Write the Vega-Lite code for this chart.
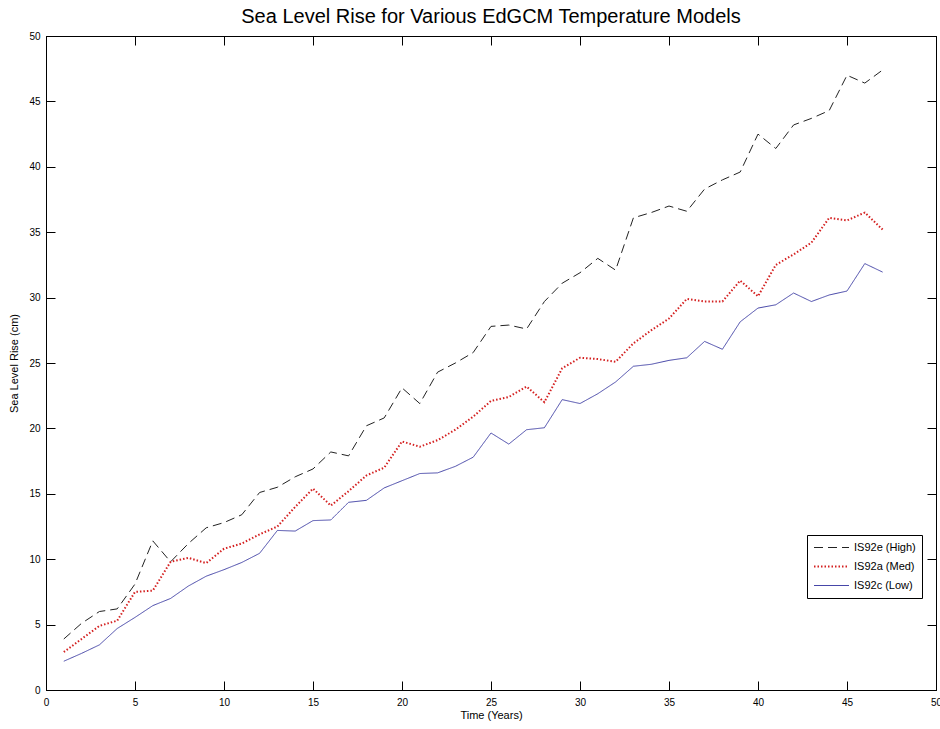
{
  "$schema": "https://vega.github.io/schema/vega-lite/v6.json",
  "width": 890,
  "height": 654,
  "autosize": "none",
  "padding": {"left": 46, "top": 36, "right": 4, "bottom": 39},
  "background": "white",
  "title": {"text": "Sea Level Rise for Various EdGCM Temperature Models", "font": "Liberation Sans", "fontSize": 20, "fontWeight": "normal", "color": "black", "offset": 4},
  "config": {
    "view": {"stroke": "black", "strokeWidth": 1},
    "font": "Liberation Sans",
    "axis": {"grid": false, "domainColor": "black", "tickColor": "black", "labelColor": "black", "titleColor": "black", "labelFont": "Liberation Sans", "titleFont": "Liberation Sans", "labelFontSize": 10, "titleFontSize": 11, "titleFontWeight": "normal", "tickSize": -9, "labelPadding": 15, "labelFlush": false, "labelOverlap": false}
  },
  "data": {"values": [
    {"t":1,"IS92e (High)":3.9,"IS92a (Med)":2.9,"IS92c (Low)":2.2},
    {"t":2,"IS92e (High)":5.1,"IS92a (Med)":3.9,"IS92c (Low)":2.8},
    {"t":3,"IS92e (High)":6.0,"IS92a (Med)":4.9,"IS92c (Low)":3.45},
    {"t":4,"IS92e (High)":6.2,"IS92a (Med)":5.3,"IS92c (Low)":4.7},
    {"t":5,"IS92e (High)":8.1,"IS92a (Med)":7.5,"IS92c (Low)":5.55},
    {"t":6,"IS92e (High)":11.4,"IS92a (Med)":7.6,"IS92c (Low)":6.45},
    {"t":7,"IS92e (High)":9.8,"IS92a (Med)":9.8,"IS92c (Low)":7.0},
    {"t":8,"IS92e (High)":11.2,"IS92a (Med)":10.1,"IS92c (Low)":7.95},
    {"t":9,"IS92e (High)":12.4,"IS92a (Med)":9.7,"IS92c (Low)":8.7},
    {"t":10,"IS92e (High)":12.8,"IS92a (Med)":10.8,"IS92c (Low)":9.2},
    {"t":11,"IS92e (High)":13.4,"IS92a (Med)":11.2,"IS92c (Low)":9.75},
    {"t":12,"IS92e (High)":15.1,"IS92a (Med)":11.9,"IS92c (Low)":10.45},
    {"t":13,"IS92e (High)":15.5,"IS92a (Med)":12.5,"IS92c (Low)":12.2},
    {"t":14,"IS92e (High)":16.3,"IS92a (Med)":14.0,"IS92c (Low)":12.15},
    {"t":15,"IS92e (High)":16.9,"IS92a (Med)":15.4,"IS92c (Low)":12.95},
    {"t":16,"IS92e (High)":18.2,"IS92a (Med)":14.1,"IS92c (Low)":13.0},
    {"t":17,"IS92e (High)":17.9,"IS92a (Med)":15.2,"IS92c (Low)":14.35},
    {"t":18,"IS92e (High)":20.2,"IS92a (Med)":16.4,"IS92c (Low)":14.5},
    {"t":19,"IS92e (High)":20.8,"IS92a (Med)":17.0,"IS92c (Low)":15.45},
    {"t":20,"IS92e (High)":23.1,"IS92a (Med)":19.0,"IS92c (Low)":16.0},
    {"t":21,"IS92e (High)":21.9,"IS92a (Med)":18.6,"IS92c (Low)":16.55},
    {"t":22,"IS92e (High)":24.3,"IS92a (Med)":19.1,"IS92c (Low)":16.6},
    {"t":23,"IS92e (High)":25.0,"IS92a (Med)":19.9,"IS92c (Low)":17.1},
    {"t":24,"IS92e (High)":25.8,"IS92a (Med)":20.9,"IS92c (Low)":17.8},
    {"t":25,"IS92e (High)":27.8,"IS92a (Med)":22.1,"IS92c (Low)":19.65},
    {"t":26,"IS92e (High)":27.9,"IS92a (Med)":22.4,"IS92c (Low)":18.8},
    {"t":27,"IS92e (High)":27.6,"IS92a (Med)":23.2,"IS92c (Low)":19.9},
    {"t":28,"IS92e (High)":29.7,"IS92a (Med)":22.0,"IS92c (Low)":20.05},
    {"t":29,"IS92e (High)":31.1,"IS92a (Med)":24.6,"IS92c (Low)":22.2},
    {"t":30,"IS92e (High)":31.9,"IS92a (Med)":25.4,"IS92c (Low)":21.9},
    {"t":31,"IS92e (High)":33.0,"IS92a (Med)":25.3,"IS92c (Low)":22.65},
    {"t":32,"IS92e (High)":32.1,"IS92a (Med)":25.1,"IS92c (Low)":23.55},
    {"t":33,"IS92e (High)":36.1,"IS92a (Med)":26.5,"IS92c (Low)":24.75},
    {"t":34,"IS92e (High)":36.5,"IS92a (Med)":27.5,"IS92c (Low)":24.9},
    {"t":35,"IS92e (High)":37.0,"IS92a (Med)":28.4,"IS92c (Low)":25.2},
    {"t":36,"IS92e (High)":36.6,"IS92a (Med)":29.9,"IS92c (Low)":25.4},
    {"t":37,"IS92e (High)":38.3,"IS92a (Med)":29.7,"IS92c (Low)":26.65},
    {"t":38,"IS92e (High)":39.0,"IS92a (Med)":29.7,"IS92c (Low)":26.05},
    {"t":39,"IS92e (High)":39.6,"IS92a (Med)":31.3,"IS92c (Low)":28.15},
    {"t":40,"IS92e (High)":42.5,"IS92a (Med)":30.1,"IS92c (Low)":29.2},
    {"t":41,"IS92e (High)":41.4,"IS92a (Med)":32.5,"IS92c (Low)":29.45},
    {"t":42,"IS92e (High)":43.2,"IS92a (Med)":33.3,"IS92c (Low)":30.35},
    {"t":43,"IS92e (High)":43.7,"IS92a (Med)":34.2,"IS92c (Low)":29.7},
    {"t":44,"IS92e (High)":44.3,"IS92a (Med)":36.1,"IS92c (Low)":30.2},
    {"t":45,"IS92e (High)":47.0,"IS92a (Med)":35.9,"IS92c (Low)":30.5},
    {"t":46,"IS92e (High)":46.4,"IS92a (Med)":36.5,"IS92c (Low)":32.6},
    {"t":47,"IS92e (High)":47.4,"IS92a (Med)":35.2,"IS92c (Low)":31.95}
  ]},
  "transform": [{"fold": ["IS92e (High)", "IS92a (Med)", "IS92c (Low)"], "as": ["series", "v"]}],
  "layer": [
    {
      "mark": {"type": "line"},
      "encoding": {
        "x": {"field": "t", "type": "quantitative", "scale": {"domain": [0, 50], "nice": false}, "axis": {"values": [0,5,10,15,20,25,30,35,40,45,50], "title": "Time (Years)", "titlePadding": 2, "labelPadding": 16}},
        "y": {"field": "v", "type": "quantitative", "scale": {"domain": [0, 50], "nice": false}, "axis": {"values": [0,5,10,15,20,25,30,35,40,45,50], "title": "Sea Level Rise (cm)", "titlePadding": 9}},
        "color": {"field": "series", "type": "nominal", "scale": {"domain": ["IS92e (High)", "IS92a (Med)", "IS92c (Low)"], "range": ["#222222", "#d42020", "#4646a8"]}, "legend": {"title": null, "orient": "none", "legendX": 761, "legendY": 499, "symbolType": "stroke", "symbolSize": 1225, "clipHeight": 13, "labelFontSize": 11, "labelColor": "black", "labelFont": "Liberation Sans", "strokeColor": "black", "fillColor": "white", "padding": 6, "rowPadding": 6, "labelOffset": 4}},
        "strokeDash": {"field": "series", "type": "nominal", "scale": {"domain": ["IS92e (High)", "IS92a (Med)", "IS92c (Low)"], "range": [[9, 5], [1.5, 2], [1, 0]]}},
        "strokeWidth": {"field": "series", "type": "nominal", "scale": {"type": "ordinal", "domain": ["IS92e (High)", "IS92a (Med)", "IS92c (Low)"], "range": [1, 2, 1]}}
      }
    },
    {
      "mark": {"type": "line", "opacity": 0},
      "encoding": {
        "x": {"field": "t", "type": "quantitative", "axis": {"orient": "top", "values": [0,5,10,15,20,25,30,35,40,45,50], "labels": false, "title": null}},
        "y": {"field": "v", "type": "quantitative", "axis": {"orient": "right", "values": [0,5,10,15,20,25,30,35,40,45,50], "labels": false, "title": null}},
        "detail": {"field": "series"}
      }
    }
  ],
  "resolve": {"axis": {"x": "independent", "y": "independent"}}
}
